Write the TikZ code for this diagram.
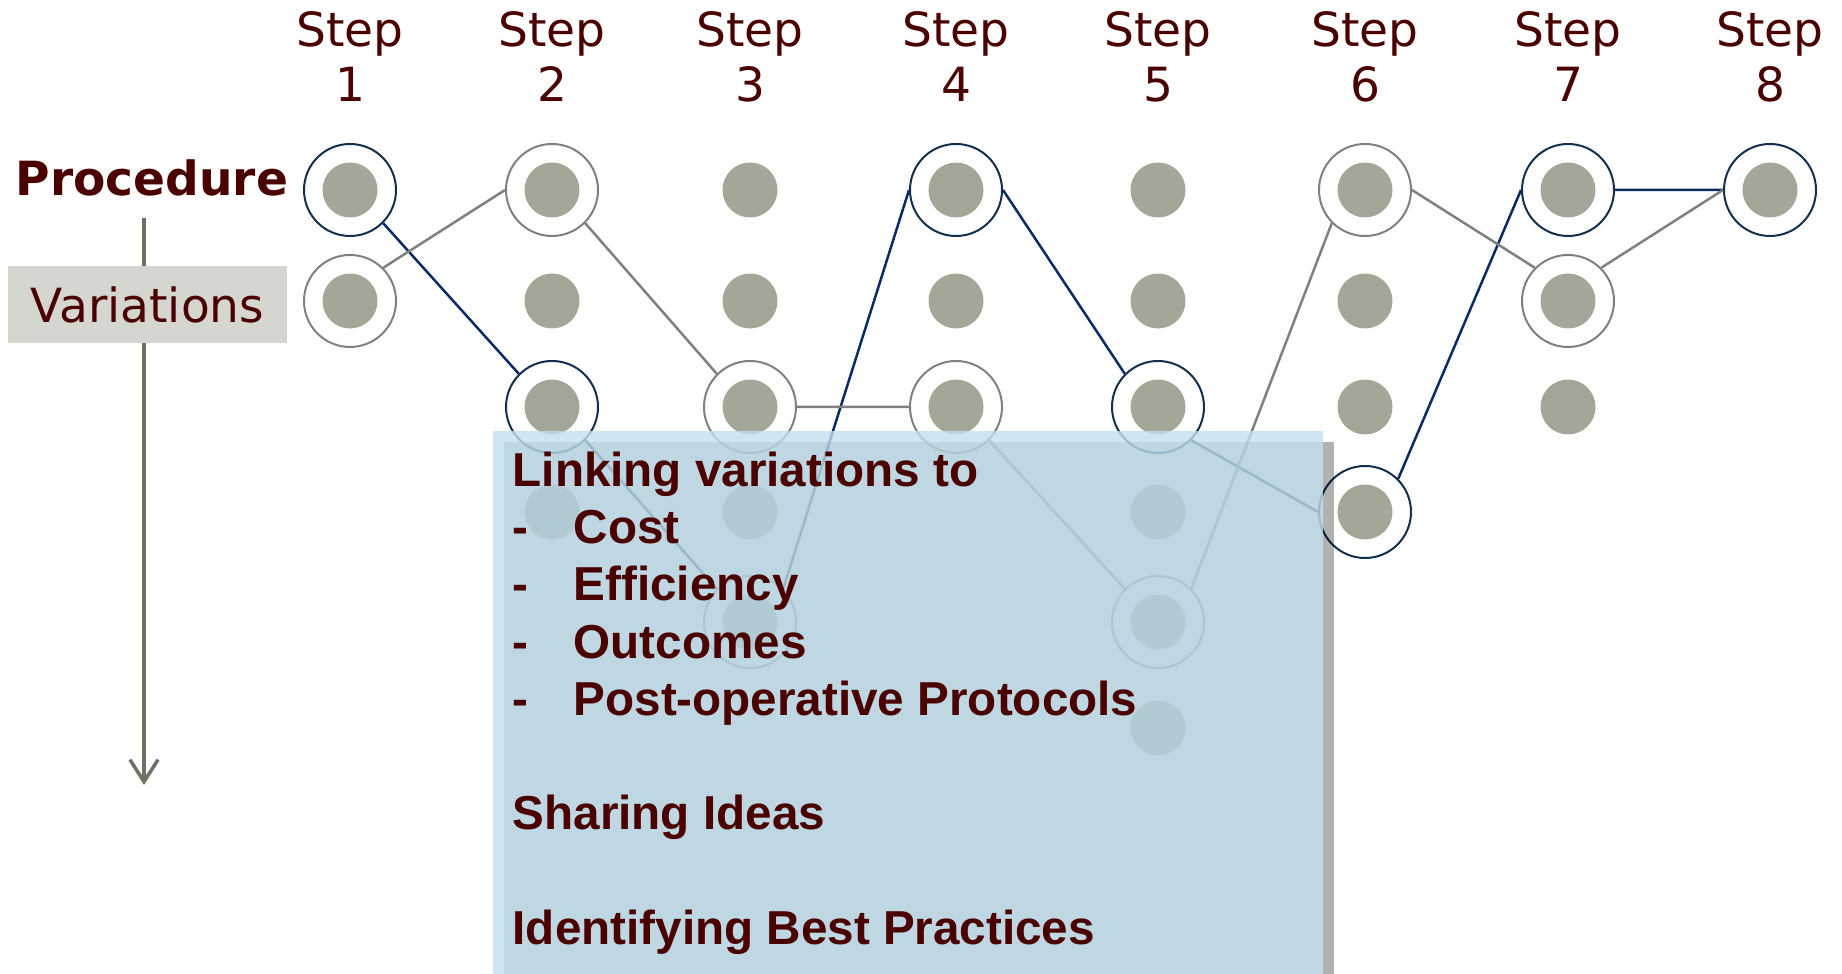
\documentclass[tikz,border=0pt]{standalone}
\usepackage{fontspec}
\setmainfont{DejaVu Sans}
\newfontfamily\panelfont{Liberation Sans}
\usetikzlibrary{arrows.meta,shadows}
\definecolor{Maroon}{RGB}{75,0,0}
\definecolor{DotGray}{RGB}{165,165,152}
\definecolor{RingNavy}{RGB}{18,48,78}
\definecolor{LineNavy}{RGB}{12,42,100}
\definecolor{RingGray}{RGB}{128,128,128}
\definecolor{LabelGray}{RGB}{214,214,208}
\definecolor{AxisGray}{RGB}{112,112,98}
\definecolor{PanelBlue}{RGB}{193,224,238}
\newcommand{\dashitem}[1]{\makebox[6.1mm][l]{-}#1}

\begin{document}
\begin{tikzpicture}[
 dot/.style={circle, fill=DotGray, minimum size=5.5mm, inner sep=0pt},
 ring/.style={circle, draw, line width=0.2mm, minimum size=9.2mm, inner sep=0pt},
 navyring/.style={ring, draw=RingNavy},
 grayring/.style={ring, draw=RingGray},
 navypath/.style={draw=LineNavy, line width=0.25mm},
 graypath/.style={draw=RingGray, line width=0.25mm},
 steplabel/.style={align=center, text=Maroon, anchor=base, inner sep=0pt, font=\fontsize{13.4}{15.9}\selectfont},
 sidelabel/.style={text=Maroon, font=\fontsize{13.4}{15.9}\selectfont},
 axis/.style={draw=AxisGray, line width=0.35mm, -{Straight Barb[length=2.2mm, width=2.8mm]}},
 panel/.style={fill=PanelBlue, fill opacity=0.8, drop shadow={shadow xshift=1.1mm, shadow yshift=-1.1mm, opacity=0.3, fill=black}},
 paneltext/.style={align=left, text=Maroon, inner sep=0pt, font=\panelfont\bfseries\fontsize{13.55}{16.3}\selectfont}
]
\useasboundingbox (0,0) rectangle (18.42,-9.74);

% columns and rows of the grid
\foreach \c/\x in {1/3.50,2/5.52,3/7.50,4/9.56,5/11.58,6/13.65,7/15.68,8/17.70}
  \coordinate (col\c) at (\x,0);
\foreach \r/\y in {1/-1.90,2/-3.01,3/-4.07,4/-5.12,5/-6.22,6/-7.28}
  \coordinate (row\r) at (0,\y);

% left axis
\coordinate (axistop) at (1.44,-2.18);
\coordinate (axisend) at (1.44,-7.85);
\draw[axis] (axistop) -- (axisend);
\node[sidelabel, font=\bfseries\fontsize{13.4}{15.9}\selectfont, anchor=base west, inner sep=0pt] (proc) at (0.15,-1.96) {Procedure};
\node[sidelabel, fill=LabelGray, minimum width=2.79cm, minimum height=0.77cm] (vari) at (1.475,-3.045) {Variations};

% step headings
\foreach \c in {1,...,8}
  \node[steplabel] (step\c) at (col\c |- 0,-1.02) {Step\\\c};

% variation dots
\foreach \c/\n in {1/2,2/4,3/5,4/3,5/6,6/4,7/3,8/1}
  \foreach \r in {1,...,\n}
    \node[dot] (d\c\r) at (col\c |- row\r) {};

% chosen variations
\foreach \c/\r in {1/1,2/3,4/1,5/3,6/4,7/1,8/1}
  \node[navyring] (r\c\r) at (col\c |- row\r) {};
\foreach \c/\r in {1/2,2/1,3/3,3/5,4/3,5/5,6/1,7/2}
  \node[grayring] (r\c\r) at (col\c |- row\r) {};

\draw[navypath] (r11.south east) -- (r23.north west)
  (r23.south east) -- (r35.north west)
  (r35.north east) -- (r41.west)
  (r41.east) -- (r53.north west)
  (r53.south east) -- (r64.west)
  (r64.north east) -- (r71.west)
  (r71.east) -- (r81.west);
\draw[graypath] (r12.north east) -- (r21.west)
  (r21.south east) -- (r33.north west)
  (r33.east) -- (r43.west)
  (r43.south east) -- (r55.north west)
  (r55.north east) -- (r61.south west)
  (r61.east) -- (r72.north west)
  (r72.north east) -- (r81.west);

% overlay
\node[panel, anchor=north west, minimum width=8.30cm, minimum height=5.44cm] (box) at (4.92,-4.30) {};
\node[paneltext, anchor=north west] (notes) at (5.12,-4.51) {Linking variations to\\
 \dashitem{Cost}\\
 \dashitem{Efficiency}\\
 \dashitem{Outcomes}\\
 \dashitem{Post-operative Protocols}\\
 \mbox{}\\
 Sharing Ideas\\
 \mbox{}\\
 Identifying Best Practices};
\end{tikzpicture}
\end{document}
